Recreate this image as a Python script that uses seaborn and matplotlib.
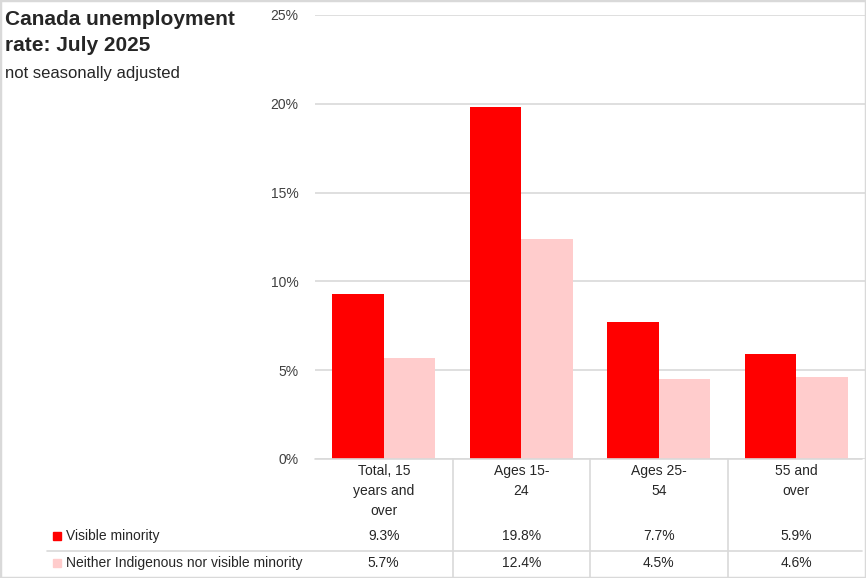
import pandas as pd
import matplotlib.pyplot as plt
import seaborn as sns
from matplotlib.patches import Rectangle
from matplotlib.lines import Line2D

# Data
categories = ['Total, 15\nyears and\nover', 'Ages 15-\n24', 'Ages 25-\n54', '55 and\nover']
series_names = ['Visible minority', 'Neither Indigenous nor visible minority']
visible_minority = [9.3, 19.8, 7.7, 5.9]
neither = [5.7, 12.4, 4.5, 4.6]
colors = ['#FF0000', '#FFCCCC']
yticks = [0, 5, 10, 15, 20, 25]

df = pd.DataFrame({
    'cat': categories * 2,
    'series': [series_names[0]] * 4 + [series_names[1]] * 4,
    'value': visible_minority + neither,
})

sns.set_style('white')
plt.rcParams['font.family'] = ['Liberation Sans', 'DejaVu Sans']

W, H = 866, 578
fig = plt.figure(figsize=(W / 100, H / 100), dpi=100)

# axes placed in pixel terms
x0, x1 = 315, 865
y0, y1 = 459, 15
ax = fig.add_axes([x0 / W, 1 - y0 / H, (x1 - x0) / W, (y0 - y1) / H])

sns.barplot(data=df, x='cat', y='value', hue='series', palette=colors,
            width=0.75, saturation=1, linewidth=0, ax=ax, legend=False)

ax.set_xlim(-0.5, 3.5)
ax.set_ylim(0, 25)
ax.set_yticks(yticks)
ax.set_yticklabels([f'{t}%' for t in yticks], fontsize=10, color='#404040')
ax.tick_params(axis='y', length=0, pad=12)
ax.set_xticks([])
ax.set_xlabel('')
ax.set_ylabel('')
for s in ax.spines.values():
    s.set_visible(False)
ax.yaxis.grid(True, color='#d9d9d9', linewidth=1.2)
ax.set_axisbelow(True)

# data table below the plot
def py(p):
    # pixel y to axes fraction
    return (y0 - p) / (y0 - y1)

trans = ax.get_xaxis_transform()
for i, c in enumerate(categories):
    ax.text(i, py(464), c, transform=trans, ha='center', va='top',
            fontsize=10, linespacing=1.55, clip_on=False)
    ax.text(i, py(536), f'{visible_minority[i]:.1f}%', transform=trans,
            ha='center', va='center', fontsize=10, clip_on=False)
    ax.text(i, py(563), f'{neither[i]:.1f}%', transform=trans,
            ha='center', va='center', fontsize=10, clip_on=False)

line_c = '#d9d9d9'
# horizontal lines of table
fig.add_artist(Line2D([x0 / W, 862 / W], [1 - y0 / H] * 2, color=line_c, lw=1.2))
fig.add_artist(Line2D([47 / W, 862 / W], [1 - 551 / H] * 2, color=line_c, lw=1.2))
# vertical separators
for xp in [452.5, 590, 727.5]:
    fig.add_artist(Line2D([xp / W] * 2, [1 - 459 / H, 0], color=line_c, lw=1.2))

# legend keys in table
for k, (name, yp) in enumerate(zip(series_names, [536, 563])):
    fig.add_artist(Rectangle((53 / W, 1 - (yp + 4) / H), 8 / W, 8 / H,
                             color=colors[k], transform=fig.transFigure))
    fig.text(66 / W, 1 - yp / H, name, ha='left', va='center', fontsize=10)

# titles
fig.text(5 / W, 1 - 10 / H, 'Canada unemployment\nrate: July 2025', ha='left',
         va='top', fontsize=15, fontweight='bold', linespacing=1.45)
fig.text(5 / W, 1 - 66 / H, 'not seasonally adjusted', ha='left', va='top',
         fontsize=12)

# outer frame
fig.add_artist(Rectangle((0, 0), 1, 1, transform=fig.transFigure, fill=False,
                         edgecolor='#d9d9d9', lw=2.5))

fig.savefig('out.png', dpi=100)
